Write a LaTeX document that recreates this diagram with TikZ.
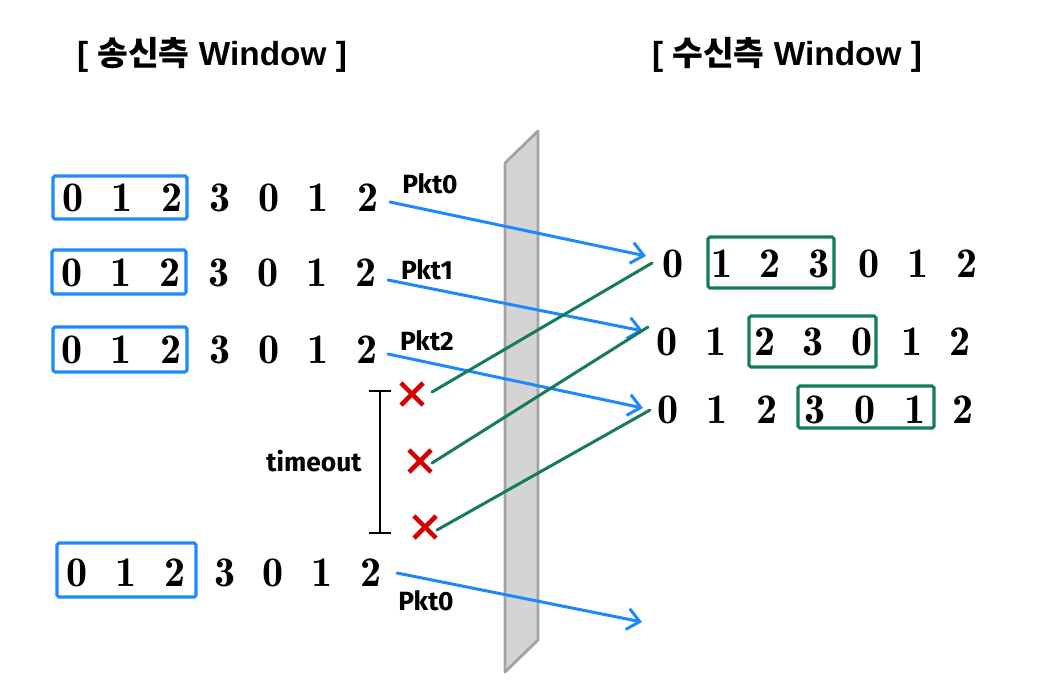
\documentclass[tikz,border=0pt]{standalone}
\usepackage{fontspec}
\newfontfamily\krfont{Noto Sans CJK KR}
\newfontfamily\titlefont{Liberation Sans}
\newfontfamily\handfont{Fira Sans}
\newfontfamily\digitfont{lmromandemi10-regular.otf}
\usetikzlibrary{arrows.meta,shapes.misc}
\definecolor{pblue}{HTML}{1E88FF}
\definecolor{pgreen}{HTML}{167A5C}
\definecolor{pred}{HTML}{D60000}
\definecolor{barfill}{HTML}{D4D4D4}
\definecolor{baredge}{HTML}{A3A3A3}
\tikzset{
  digit/.style={font=\digitfont\fontsize{24}{24}\selectfont, inner sep=0pt},
  titletext/.style={font=\titlefont\bfseries\fontsize{19}{21}\selectfont},
  hand/.style={font=\handfont\bfseries\fontsize{15}{15}\selectfont, inner sep=0pt},
  sendbox/.style={draw=pblue, line width=1.8pt, rounded corners=1pt},
  recvbox/.style={draw=pgreen, line width=1.8pt, rounded corners=1pt},
  sendarrow/.style={draw=pblue, line width=1.7pt, line cap=round,
     -{Straight Barb[length=7pt,width=12pt,line width=1.7pt]}},
  ackline/.style={draw=pgreen, line width=1.7pt, line cap=round},
  lost/.style={cross out, draw=pred, line width=2.6pt, minimum size=10pt, inner sep=0pt},
}
\begin{document}
\begin{tikzpicture}[x=0.02cm,y=-0.02cm]
\useasboundingbox (0,0) rectangle (1050,698);

% titles
\node[titletext] (tleft) at (212,55) {[ {\krfont\bfseries 송신측} Window ]};
\node[titletext] (tright) at (787,55) {[ {\krfont\bfseries 수신측} Window ]};

% gray barrier
\draw[fill=barfill, draw=baredge, line width=1.6pt, line join=round]
  (505,163) -- (538,131) -- (538,640) -- (505,672) -- cycle;

% sender rows
\foreach \x/\d [count=\i] in {73/0,122/1,172/2,220/3,269/0,318/1,368/2}
  \node[digit] (s1-\i) at (\x,198) {\d};
\foreach \x/\d [count=\i] in {72/0,121/1,170/2,219/3,268/0,317/1,366/2}
  \node[digit] (s2-\i) at (\x,273) {\d};
\foreach \x/\d [count=\i] in {72/0,121/1,171/2,220/3,269/0,318/1,367/2}
  \node[digit] (s3-\i) at (\x,350) {\d};
\foreach \x/\d [count=\i] in {77/0,126/1,175/2,225/3,273/0,322/1,371/2}
  \node[digit] (s4-\i) at (\x,573) {\d};
\draw[sendbox] (53,176) rectangle (187,219);
\draw[sendbox] (52,250) rectangle (186,294);
\draw[sendbox] (53,327) rectangle (187,372);
\draw[sendbox] (57,543) rectangle (196,597);

% receiver rows
\foreach \x/\d [count=\i] in {673/0,722/1,770/2,819/3,869/0,918/1,967/2}
  \node[digit] (r1-\i) at (\x,264) {\d};
\foreach \x/\d [count=\i] in {667/0,716/1,765/2,813/3,862/0,912/1,960/2}
  \node[digit] (r2-\i) at (\x,342) {\d};
\foreach \x/\d [count=\i] in {668/0,717/1,767/2,815/3,865/0,915/1,963/2}
  \node[digit] (r3-\i) at (\x,410) {\d};
\draw[recvbox] (708,237) rectangle (834,288);
\draw[recvbox] (749,316) rectangle (876,367);
\draw[recvbox] (798,386) rectangle (934,428);

% packet arrows
\coordinate (p1s) at (390,202); \coordinate (p1e) at (646,256);
\coordinate (p2s) at (388,280); \coordinate (p2e) at (643,331);
\coordinate (p3s) at (388,354); \coordinate (p3e) at (643,408);
\coordinate (p4s) at (397,573); \coordinate (p4e) at (642,622);
\draw[sendarrow] (p1s) -- (p1e);
\draw[sendarrow] (p2s) -- (p2e);
\draw[sendarrow] (p3s) -- (p3e);
\draw[sendarrow] (p4s) -- (p4e);
\node[hand] (l1) at (430,184) {Pkt0};
\node[hand] (l2) at (427,270) {Pkt1};
\node[hand] (l3) at (427,341) {Pkt2};
\node[hand] (l4) at (426,601) {Pkt0};

% lost acks
\node[lost] (x1) at (412,394) {};
\node[lost] (x2) at (420,461) {};
\node[lost] (x3) at (425,527) {};
\coordinate (a1s) at (432,392); \coordinate (a1e) at (652,263);
\coordinate (a2s) at (432,463); \coordinate (a2e) at (648,327);
\coordinate (a3s) at (437,530); \coordinate (a3e) at (650,410);
\draw[ackline] (a1s) -- (a1e);
\draw[ackline] (a2s) -- (a2e);
\draw[ackline] (a3s) -- (a3e);

% timeout bracket
\coordinate (tt) at (380,391); \coordinate (tb) at (380,533);
\draw[line width=1.6pt] (tt) -- (tb);
\draw[line width=1.6pt] ([xshift=-6pt]tt) -- ([xshift=6pt]tt);
\draw[line width=1.6pt] ([xshift=-6pt]tb) -- ([xshift=6pt]tb);
\node[hand] (tlabel) at (314,461) {timeout};
\end{tikzpicture}
\end{document}
